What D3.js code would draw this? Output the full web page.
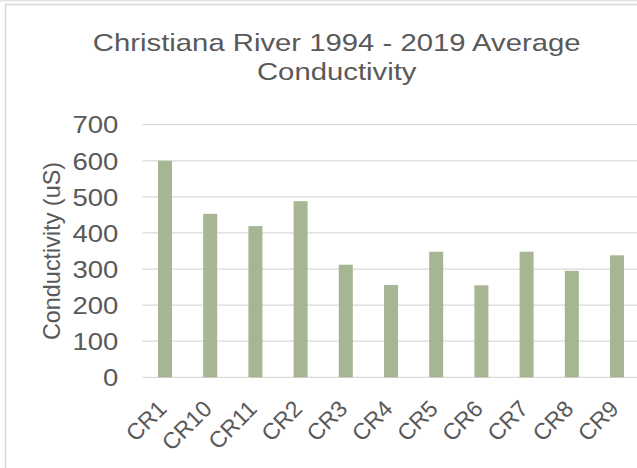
<!DOCTYPE html>
<html>
<head>
<meta charset="utf-8">
<script src="https://cdn.jsdelivr.net/npm/d3@7"></script>
<style>
  html, body { margin: 0; padding: 0; background: #ffffff; }
  svg { display: block; }
  text { font-family: "Liberation Sans", Arial, sans-serif; fill: #595959; }
</style>
</head>
<body>
<svg id="chart" width="637" height="468"></svg>
<script>
// Station codes along the Christiana River
const stations = ["CR1", "CR10", "CR11", "CR2", "CR3", "CR4", "CR5", "CR6", "CR7", "CR8", "CR9"];
// Average conductivity (uS), 1994 - 2019
const conductivity = [600, 453, 419, 488, 312, 256, 348, 255, 348, 295, 338];
// Value axis ticks
const yTicks = [0, 100, 200, 300, 400, 500, 600, 700];

const titleLines = ["Christiana River 1994 - 2019 Average", "Conductivity"];
const yTitle = "Conductivity (uS)";

const svg = d3.select("#chart");
const W = 637, H = 468;
const plot = { left: 142.4, right: 639.6, top: 124.7, bottom: 377.3 };
const FONT = "\"Liberation Sans\", Arial, sans-serif";

// strip along the top edge
svg.append("line")
  .attr("x1", 0).attr("x2", W)
  .attr("y1", 0.8).attr("y2", 0.8)
  .attr("stroke", "#e3e3e3").attr("stroke-width", 1.6);

// chart frame
svg.append("rect")
  .attr("x", 5.5).attr("y", 4.5)
  .attr("width", W + 10).attr("height", H + 10)
  .attr("fill", "#ffffff")
  .attr("stroke", "#d9d9d9").attr("stroke-width", 1.5);

// title (glyphs widened horizontally)
svg.append("g")
  .attr("transform", "translate(336.7,0) scale(1.22,1)")
  .append("text")
  .attr("text-anchor", "middle")
  .style("font-size", "24px")
  .selectAll("tspan")
  .data(titleLines)
  .join("tspan")
  .attr("x", 0)
  .attr("y", (d, i) => 51.5 + i * 28.5)
  .text(d => d);

const x = d3.scaleBand()
  .domain(stations)
  .range([plot.left, plot.right])
  .paddingInner(0.69)
  .paddingOuter(0.345);

const y = d3.scaleLinear()
  .domain([0, 700])
  .range([plot.bottom, plot.top]);

// gridlines
svg.append("g")
  .selectAll("line")
  .data(yTicks)
  .join("line")
  .attr("x1", plot.left).attr("x2", plot.right)
  .attr("y1", d => y(d)).attr("y2", d => y(d))
  .attr("stroke", "#d9d9d9").attr("stroke-width", 1.3);

// y axis labels
const yAxis = d3.axisLeft(y).tickValues(yTicks).tickSize(0).tickPadding(0);
const gy = svg.append("g")
  .attr("transform", "translate(118.3,0)")
  .call(yAxis);
gy.select(".domain").remove();
gy.selectAll("text")
  .style("font-size", "23.5px")
  .style("font-family", FONT)
  .attr("fill", "#595959")
  .attr("x", 0)
  .attr("dy", "0.35em")
  .attr("transform", "scale(1.17,1)");

// y axis title
svg.append("text")
  .attr("transform", `translate(60,${(plot.top + plot.bottom) / 2}) rotate(-90)`)
  .attr("text-anchor", "middle")
  .style("font-size", "23.4px")
  .text(yTitle);

// bars
svg.append("g")
  .selectAll("rect")
  .data(conductivity)
  .join("rect")
  .attr("x", (d, i) => x(stations[i]))
  .attr("width", x.bandwidth())
  .attr("y", d => y(d))
  .attr("height", d => y(0) - y(d))
  .attr("fill", "#a6b592");

// category labels, rotated
const xAxis = d3.axisBottom(x).tickSize(0).tickPadding(0);
const gx = svg.append("g")
  .attr("transform", `translate(0,${plot.bottom})`)
  .call(xAxis);
gx.select(".domain").remove();
gx.selectAll("text")
  .style("font-size", "23px")
  .style("font-family", FONT)
  .attr("fill", "#595959")
  .attr("text-anchor", "end")
  .attr("dy", "0")
  .attr("y", 0)
  .attr("transform", "translate(3,33) rotate(-45)");
</script>
</body>
</html>
